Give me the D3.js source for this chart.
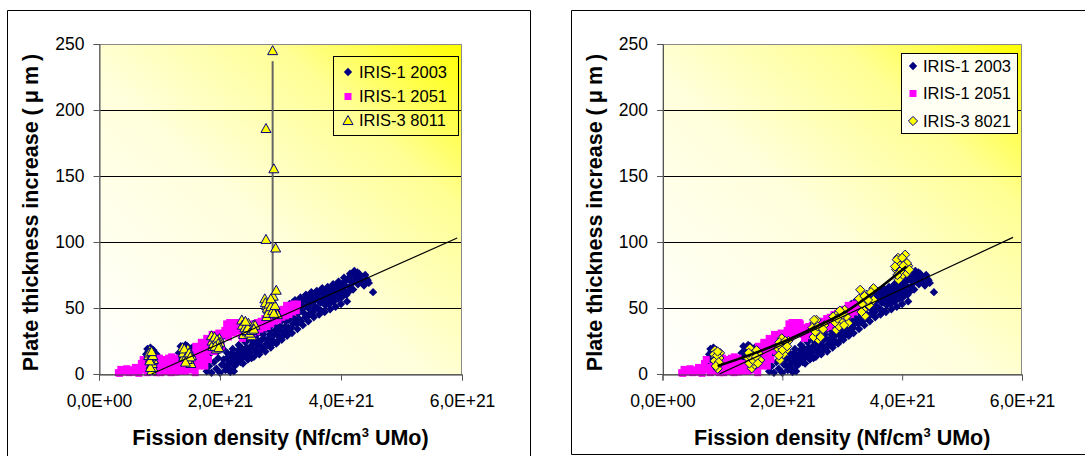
<!DOCTYPE html>
<html><head><meta charset="utf-8">
<script src="https://cdn.jsdelivr.net/npm/d3@7"></script>
<style>body{margin:0;background:#fff;} svg{display:block;font-family:"Liberation Sans",Arial,sans-serif;}</style>
</head><body><svg id="c" width="1085" height="456"></svg>
<script>
// ---- data (x in units of 1E+21 fissions/cm3, y in µm) ----
const xTicks = [0, 2, 4, 6];
const xTickLabels = ["0,0E+00", "2,0E+21", "4,0E+21", "6,0E+21"];
const yTicks = [0, 50, 100, 150, 200, 250];
const gridValues = [50, 100, 150, 200];
const leftNames = ["IRIS-1 2003", "IRIS-1 2051", "IRIS-3 8011"];
const rightNames = ["IRIS-1 2003", "IRIS-1 2051", "IRIS-3 8021"];

const iris1_2003 = [
 [0.78,4],[0.8,9],[0.83,14],[0.86,17],[0.9,3],[0.92,12],[0.79,12],
 [0.77,7],[0.78,15],[0.8,19],[0.81,2],[0.82,17],[0.83,11],[0.84,6],[0.85,20],[0.88,14],[0.9,18],
 [0.93,8],[0.95,15],[0.94,4],[0.96,11],
 [1.33,6],[1.36,13],[1.39,18],[1.42,3],[1.46,21],[1.52,4],
 [1.3,10],[1.32,16],[1.35,21],[1.38,9],[1.41,14],[1.43,22],[1.45,7],[1.48,17],[1.5,12],[1.54,20],
 [1.56,9],[1.58,15],
 [1.8,19],[1.83,27],[1.86,22],[1.9,29],[1.93,25],[1.96,17],[1.99,22],[2.02,27],[2.05,19],
 [1.78,2],[1.82,6],[1.86,1],[1.9,9],[1.94,4],[1.97,12],[2.0,1],[2.03,7],[1.85,16],[1.88,24],[1.92,20],
 [2.06,11],[2.09,3],[2.12,16],[2.14,8],[2.17,1.5],[2.19,13],[2.21,19],[2.24,6],[2.26,11],[2.29,15],
 [2.31,22],[2.34,9],[2.37,17],[2.39,13],[2.42,24],[2.44,20],[2.46,11],[2.49,16],[2.51,27],[2.53,22],
 [2.56,13],[2.58,18],[2.61,30],[2.63,25],[2.65,15],[2.68,21],[2.7,33],[2.72,27],[2.75,17],[2.77,23],
 [2.79,36],[2.82,30],[2.84,20],[2.86,26],[2.89,39],[2.91,33],[2.93,23],[2.96,29],[2.98,44],[3.0,36],
 [3.02,26],[3.05,32],[3.07,48],[3.09,40],[3.11,29],[3.13,35],[3.15,53],[3.17,44],[3.19,31],[3.21,38],
 [3.24,56],[3.26,49],[3.28,34],[3.3,42],[3.33,58],[3.35,52],[3.37,37],[3.39,46],[3.42,60],[3.44,55],
 [3.46,40],[3.48,49],[3.51,62],[3.53,57],[3.55,43],[3.57,51],[3.6,63],[3.62,58],[3.64,45],[3.66,54],
 [3.69,65],[3.71,60],[3.73,47],[3.75,56],[3.78,66],[3.8,61],[3.82,49],[3.84,57],[3.87,68],[3.89,63],
 [3.91,51],[3.93,59],[3.96,70],[3.98,65],[4.0,53],[4.02,61],[4.05,73],[4.07,67],[4.1,55],[4.12,62],
 [4.15,76],[4.17,70],[4.2,64],[4.22,78],[4.25,73],[4.28,68],[4.3,76],[4.34,71],[4.38,67],[4.42,72],
 [4.46,69],[4.53,62],
 [2.08,6],[2.11,12],[2.15,4],[2.18,9],[2.2,16],[2.23,2],[2.25,14],[2.28,8],[2.3,18],[2.33,12],
 [2.35,20],[2.38,8],[2.4,15],[2.43,18],[2.45,26],[2.47,14],[2.5,20],[2.52,12],[2.55,24],[2.57,29],
 [2.6,17],[2.62,22],[2.64,32],[2.67,18],[2.69,26],[2.71,30],[2.74,20],[2.76,34],[2.78,26],[2.81,22],
 [2.83,33],[2.85,37],[2.88,24],[2.9,30],[2.92,41],[2.94,36],[2.97,26],[2.99,33],[3.01,40],[3.04,29],
 [3.06,44],[3.08,36],[3.1,51],[3.12,32],[3.14,41],[3.16,48],[3.18,35],[3.2,54],[3.23,42],[3.25,52],
 [3.27,38],[3.29,46],[3.31,55],[3.34,40],[3.36,49],[3.38,56],[3.41,43],[3.43,52],[3.45,58],[3.47,45],
 [3.5,54],[3.52,60],[3.54,47],[3.56,55],[3.58,61],[3.61,50],[3.63,56],[3.65,62],[3.67,48],[3.7,57],
 [3.72,63],[3.74,52],[3.77,59],[3.79,64],[3.81,53],[3.83,62],[3.86,66],[3.88,55],[3.9,60],[3.92,67],
 [3.95,57],[3.97,62],[3.99,68],[4.01,58],[4.04,64],[4.06,70],[4.09,60],[4.11,72],[4.14,66],[4.16,74],
 [4.19,69],[4.21,75],[4.24,71],[4.27,77],[4.32,74],[4.36,69],[4.4,75],[4.44,71]
];
const iris1_2051 = [
 [0.32,1],[0.36,3.5],[0.41,1.5],[0.46,4],[0.5,1],[0.55,3],[0.6,5],[0.63,1.5],
 [0.68,3],[0.7,8],[0.73,11],[0.76,5],[0.8,1],[0.84,6],[0.88,2],[0.93,3],[0.97,4],[1.0,12],[1.02,1],
 [1.06,7],[1.1,11],[1.13,2],[1.17,5],[1.2,13],[1.24,9],[1.27,1.5],[1.31,5],[1.35,3],[1.38,6],
 [1.43,2],[1.47,7],[1.5,4],[1.56,16],[1.57,4],[1.6,21],[1.63,9],[1.66,14],[1.69,24],[1.72,19],
 [1.75,6],[1.78,27],[1.81,11],[1.84,22],[1.87,30],[1.9,17],[1.94,26],[1.98,31],[2.02,21],
 [2.08,33],[2.11,38],[2.14,28],[2.17,35],[2.2,39],[2.23,31],[2.26,36],[2.3,38],[2.33,33],
 [2.37,27],[2.4,32],[2.44,36],[2.48,30],[2.52,34],[2.56,38],[2.6,32],[2.64,36],[2.68,40],[2.72,35],
 [2.76,39],[2.8,43],[2.84,38],[2.88,42],[2.92,46],[2.96,41],[3.0,45],[3.04,49],[3.08,44],[3.12,48],
 [3.16,52],[3.2,47],[3.24,51],[3.28,53],
 [0.34,0.5],[0.44,2.5],[0.52,3],[0.58,1.5],[0.66,0.5],[0.71,4],[0.75,4],[0.79,3],[0.86,4],[0.9,2],
 [0.95,1],[0.99,7],[1.04,10],[1.08,3],[1.12,8],[1.15,12],[1.19,1],[1.22,7],[1.26,12],[1.29,4],
 [1.33,8],[1.36,2],[1.4,4],[1.45,5],[1.49,3],[1.52,9],[1.56,10],[1.59,1],[1.62,16],[1.65,6],
 [1.68,19],[1.71,11],[1.74,23],[1.77,15],[1.8,25],[1.83,18],[1.86,26],[1.89,22],[1.92,29],[1.96,20],
 [2.0,27],[2.04,30],[2.1,30],[2.13,35],[2.16,39],[2.19,33],[2.22,37],[2.25,33],[2.28,39],[2.32,35],
 [2.35,30],[2.39,35],[2.42,29],[2.46,33],[2.5,37],[2.54,31],[2.58,35],[2.62,39],[2.66,34],[2.7,38],
 [2.74,42],[2.78,36],[2.82,41],[2.86,45],[2.9,40],[2.94,44],[2.98,48],[3.02,43],[3.06,47],[3.1,52],
 [3.14,45],[3.18,50],[3.22,53],[3.26,48]
];
const iris3_8011 = [
 [0.84,18],[0.87,15],[0.85,12],[0.88,10],[0.86,7],[0.89,5],[0.87,2.5],[0.82,14],[0.9,11],
 [0.83,16],[0.86,13],[0.88,8],[0.85,5],[0.84,10],[0.89,14],[0.87,17],
 [1.38,20],[1.42,17],[1.45,15],[1.48,12],[1.5,10],[1.52,8],[1.47,19],[1.4,13],[1.53,14],
 [1.39,16],[1.41,19],[1.44,13],[1.46,11],[1.49,16],[1.51,13],[1.43,9],
 [1.86,29],[1.9,27],[1.93,25],[1.96,22],[1.99,27],[1.88,21],[1.94,19],[2.0,24],
 [1.87,25],[1.89,23],[1.91,28],[1.95,26],[1.97,23],[1.92,21],[1.98,20],
 [2.36,41],[2.4,38],[2.44,36],[2.47,38.5],[2.5,34],[2.55,37],[2.58,37],[2.39,30],[2.45,32],[2.52,29],
 [2.37,37],[2.41,35],[2.43,33],[2.46,35],[2.49,31],[2.42,40],[2.53,33],[2.56,34],
 [2.74,57],[2.77,52],[2.8,49],[2.82,47],[2.77,43.5],[2.86,55],[2.9,50],[2.93,47],[2.95,45],[2.88,59],[2.93,63.5],
 [2.75,54],[2.78,50],[2.79,46],[2.81,53],[2.84,51],[2.87,48],[2.89,46],[2.91,52],[2.84,57],
 [2.87,245],[2.76,186],[2.89,155.5],[2.76,102],[2.92,95.5]
];
const iris3_8021 = [
 [0.875,18],[0.96,16],[0.9,9.5],[0.93,7],[0.875,13],[0.92,4],[0.88,11],[0.95,12],[0.86,15],
 [0.87,10],[0.91,14],[0.94,9],[0.89,6],[0.92,17],
 [1.46,19.5],[1.6,15.7],[1.43,12],[1.63,10.6],[1.49,4.3],[1.54,7],[1.5,15],[1.57,18],[1.45,8],
 [1.47,13],[1.52,10],[1.56,13],[1.44,16],[1.59,8],
 [1.99,27],[2.07,18],[1.96,10.6],[2.04,22],[1.95,24],[2.1,25],[2.02,15],[1.93,19],
 [1.97,21],[2.0,18],[2.05,25],[1.94,14],[2.08,21],
 [2.54,38.5],[2.6,26],[2.66,33.4],[2.57,41],[2.5,35],[2.62,30],[2.7,37],[2.52,28],
 [2.55,32],[2.59,36],[2.64,28],[2.68,34],[2.53,41],
 [2.93,46],[3.04,48.6],[2.9,33.4],[3.1,38.5],[2.85,43.5],[3.07,43.5],[2.98,40],[2.95,36],
 [2.88,39],[2.92,42],[3.0,45],[3.03,37],[2.96,48],
 [3.3,63.8],[3.52,65],[3.35,48.6],[3.52,56],[3.4,60],[3.45,52],[3.28,57],[3.38,44],
 [3.33,53],[3.37,59],[3.43,56],[3.48,62],[3.32,47],
 [3.9,79],[3.95,84],[4.03,86],[4.06,79],[3.99,74],[3.93,88],[4.1,82],
 [4.05,90.4],[3.91,86.6],[4.08,84],[4.08,76.5],[3.94,71.4],[3.88,81.5],[4.0,88],[3.97,78],[4.12,79],[3.92,75],[4.02,82]
];
const linearFitLeft = [[0.87,0],[5.92,103]];
const linearFitRight = [[0.95,0],[5.85,103.5]];
const polyFitRight = [[0.92,6],[1.46,14.5],[2.0,24],[2.57,36],[3.07,47.5],[3.5,61],[4.07,81.5]];
const connector8011 = [[2.87,55],[2.87,237]];

// ---- drawing ----
const svg = d3.select("#c");
const defs = svg.append("defs");
const grad = defs.append("linearGradient").attr("id","bg")
  .attr("x1","0").attr("y1","1").attr("x2","1").attr("y2","0");
grad.append("stop").attr("offset","0").attr("stop-color","#ffffff");
grad.append("stop").attr("offset","0.45").attr("stop-color","#ffffdc");
grad.append("stop").attr("offset","0.75").attr("stop-color","#ffff94");
grad.append("stop").attr("offset","1").attr("stop-color","#ffff00");

const diamond = r => `M0,${-r}L${r},0L0,${r}L${-r},0Z`;
const triangle = (w,h) => `M0,${-h*0.55}L${w/2},${h*0.45}L${-w/2},${h*0.45}Z`;

const styles = {
  d2003: {path: diamond(4.2), fill:"#000080", stroke:"none"},
  s2051: {path: "M-3.5,-3.5h7v7h-7Z", fill:"#ff00ff", stroke:"none"},
  tri: {path: triangle(10,9), fill:"#ffff00", stroke:"#000080"},
  dia: {path: diamond(4.6), fill:"#ffff00", stroke:"#000080"}
};

function panel(cfg){
  const g = svg.append("g");
  const x = d3.scaleLinear().domain([0,6]).range([cfg.x0, cfg.x1]);
  const y = d3.scaleLinear().domain([0,250]).range([cfg.y1, cfg.y0]);
  g.append("path").attr("d", cfg.frame).attr("fill","none").attr("stroke","#000").attr("stroke-width",1);
  g.append("rect").attr("x",cfg.x0).attr("y",cfg.y0).attr("width",cfg.x1-cfg.x0).attr("height",cfg.y1-cfg.y0)
    .attr("fill","url(#bg)");
  g.selectAll(".grid").data(gridValues).enter().append("line")
    .attr("x1",cfg.x0).attr("x2",cfg.x1).attr("y1",d=>Math.round(y(d))+0.5).attr("y2",d=>Math.round(y(d))+0.5)
    .attr("stroke","#000").attr("stroke-width",1);
  g.append("rect").attr("x",cfg.x0+0.5).attr("y",Math.round(cfg.y0)+0.5).attr("width",cfg.x1-cfg.x0-1).attr("height",cfg.y1-cfg.y0)
    .attr("fill","none").attr("stroke","#8a8a8a").attr("stroke-width",1);
  const line = d3.line().x(d=>x(d[0])).y(d=>y(d[1]));
  if (cfg.connector) g.append("path").attr("d", line(cfg.connector)).attr("stroke","#666").attr("stroke-width",2).attr("fill","none");
  const drawSeries = (data, st) => g.append("g").selectAll("path").data(data).enter().append("path")
    .attr("d", st.path).attr("transform", d=>`translate(${x(d[0])},${y(d[1])})`)
    .attr("fill", st.fill).attr("stroke", st.stroke).attr("stroke-width",1);
  drawSeries(iris1_2003, styles.d2003);
  drawSeries(iris1_2051, styles.s2051);
  drawSeries(cfg.third, cfg.thirdStyle);
  g.append("path").attr("d", line(cfg.linear)).attr("stroke","#000").attr("stroke-width",1.2).attr("fill","none");
  if (cfg.poly) g.append("path").attr("d", line.curve(d3.curveMonotoneX)(cfg.poly))
    .attr("stroke","#000").attr("stroke-width",2.6).attr("fill","none");
  const ya = g.append("g").attr("transform",`translate(${cfg.x0+0.5},0)`)
    .call(d3.axisLeft(y).tickValues(yTicks).tickSize(6).tickPadding(9).tickFormat(d3.format("d")));
  ya.select(".domain").attr("stroke","#555");
  ya.selectAll(".tick line").attr("stroke","#555");
  ya.selectAll("text").attr("font-size","17.5px").attr("fill","#000").attr("font-family","'Liberation Sans',Arial,sans-serif");
  const xa = g.append("g").attr("transform",`translate(0,${cfg.y1+0.5})`)
    .call(d3.axisBottom(x).tickValues(xTicks).tickSize(6).tickPadding(14).tickFormat((d,i)=>xTickLabels[i]));
  xa.select(".domain").attr("stroke","#333");
  xa.selectAll(".tick line").attr("stroke","#555");
  xa.selectAll("text").attr("font-size","17.5px").attr("fill","#000").attr("font-family","'Liberation Sans',Arial,sans-serif");
  const cx = (cfg.x0+cfg.x1)/2, cy = (cfg.y0+cfg.y1)/2;
  const yt = g.append("text").attr("transform",`translate(${cfg.x0-61},${cy+1}) rotate(-90)`).attr("text-anchor","middle")
    .attr("font-size","21.5px").attr("font-weight","bold");
  yt.append("tspan").text("Plate thickness increase ");
  yt.append("tspan").attr("letter-spacing","5px").text("(μm)");
  const xt = g.append("text").attr("x",cx).attr("y",445).attr("text-anchor","middle")
    .attr("font-size","21.5px").attr("font-weight","bold");
  xt.append("tspan").text("Fission density (Nf/cm");
  xt.append("tspan").attr("font-size","13px").attr("dy","-8").text("3");
  xt.append("tspan").attr("dy","8").text(" UMo)");
  const L = cfg.legend;
  g.append("rect").attr("x",L.x+0.5).attr("y",L.y+0.5).attr("width",L.w).attr("height",L.h)
    .attr("fill",L.fill).attr("stroke","#000").attr("stroke-width",1);
  const lstyles = [styles.d2003, styles.s2051, cfg.thirdStyle];
  cfg.names.forEach((n,i)=>{
    const ry = L.rows[i];
    g.append("path").attr("d", lstyles[i].path).attr("transform",`translate(${L.mx},${ry})`)
      .attr("fill",lstyles[i].fill).attr("stroke",lstyles[i].stroke).attr("stroke-width",1);
    g.append("text").attr("x",L.tx).attr("y",ry).attr("dy","0.36em").attr("font-size","16.5px").text(n);
  });
}

panel({x0:99, x1:462, y0:44, y1:374,
  frame:"M7.5,470V10.5H530.5V470",
  third: iris3_8011, thirdStyle: styles.tri, names: leftNames,
  linear: linearFitLeft, connector: connector8011,
  legend:{x:333,y:56,w:125,h:79,fill:"none",rows:[72,96.5,120.5],mx:348,tx:359}});
panel({x0:662.5, x1:1022, y0:44, y1:374,
  frame:"M1090,10.5H571.5V454.5H1090",
  third: iris3_8021, thirdStyle: styles.dia, names: rightNames,
  linear: linearFitRight, poly: polyFitRight,
  legend:{x:901,y:53,w:116,h:80,fill:"#fffff4",rows:[66,93.5,121],mx:913,tx:923}});
</script>
</body></html>
